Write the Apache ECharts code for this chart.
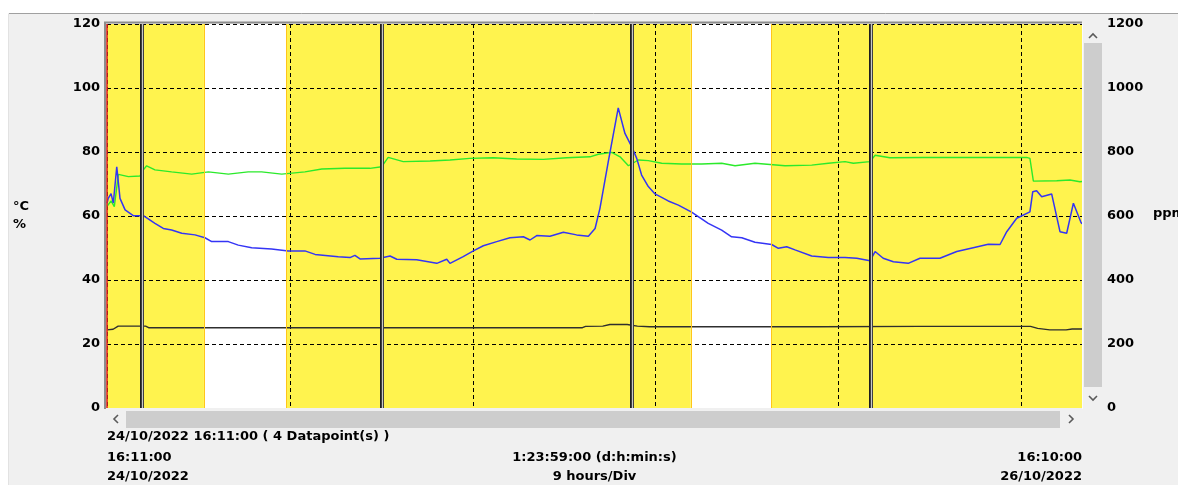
<!DOCTYPE html>
<html>
<head>
<meta charset="utf-8">
<script src="https://cdn.jsdelivr.net/npm/echarts@6/dist/echarts.min.js"></script>
<style>
  html, body { margin: 0; padding: 0; background: #ffffff; }
  #chart { width: 1178px; height: 485px; }
</style>
</head>
<body>
<div id="chart"></div>
<script>
// Logger record 24/10/2022 16:11 -> 26/10/2022 16:10; x values are elapsed hours.
const spanHours = 47 + 59 / 60;
const divHours = 9;

// CO2 concentration, ppm (right axis)
const co2Ppm = [
  [0, 640], [0.06, 655], [0.2, 670], [0.31, 640], [0.48, 754], [0.64, 655], [0.89, 619],
  [1.29, 601], [1.79, 601], [2.36, 577], [2.77, 561], [3.18, 556], [3.68, 546], [4.33, 541],
  [4.82, 532], [5.15, 520], [5.97, 520], [6.46, 509], [7.12, 501], [8.1, 497], [8.92, 491],
  [9.74, 491], [10.24, 480], [11.38, 473], [11.96, 470], [12.2, 477], [12.45, 466], [13.43, 468],
  [13.93, 475], [14.26, 465], [15.24, 463], [16.23, 452], [16.72, 465], [16.88, 452], [17.53, 473],
  [18.03, 491], [18.52, 507], [19.18, 520], [19.83, 532], [20.49, 535], [20.82, 525], [21.15, 539],
  [21.8, 537], [22.46, 549], [23.11, 541], [23.69, 537], [24.02, 561], [24.26, 624], [24.67, 770],
  [25.16, 938], [25.49, 858], [25.82, 817], [26.07, 780], [26.31, 728], [26.64, 692], [26.97, 669],
  [27.62, 647], [28.12, 634], [28.77, 612], [29.59, 577], [30.25, 556], [30.74, 535], [31.24, 532],
  [31.89, 518], [32.71, 511], [33.04, 499], [33.45, 504], [33.86, 494], [34.68, 475], [35.5, 470],
  [36.32, 470], [36.9, 468], [37.55, 460], [37.8, 489], [38.2, 468], [38.7, 457], [39.43, 452],
  [40.01, 468], [40.99, 468], [41.82, 489], [42.63, 501], [43.37, 512], [43.95, 511], [44.28, 551],
  [44.77, 593], [45.42, 613], [45.56, 676], [45.75, 679], [46.0, 660], [46.49, 669], [46.9, 551],
  [47.23, 546], [47.56, 640], [47.92, 582], [47.983, 575]
];

// Relative humidity, % (left axis)
const humidityPct = [
  [0, 63], [0.06, 62.9], [0.2, 64.7], [0.36, 62.9], [0.56, 73], [1.05, 72.3], [1.62, 72.5],
  [1.79, 74.4], [1.95, 75.7], [2.36, 74.4], [3.18, 73.8], [4.17, 73.1], [4.99, 73.8], [5.97, 73.1],
  [6.95, 73.8], [7.61, 73.8], [8.6, 73.1], [9.74, 73.8], [10.57, 74.7], [11.71, 74.9], [12.94, 74.9],
  [13.52, 75.4], [13.84, 78.3], [14.58, 77], [15.9, 77.2], [16.88, 77.5], [17.86, 78], [19.01, 78.2],
  [20.16, 77.8], [21.47, 77.7], [22.62, 78.2], [23.77, 78.5], [24.18, 79.3], [24.84, 79.9],
  [25.25, 78.5], [25.66, 75.7], [26.15, 77.5], [26.64, 77.3], [27.3, 76.5], [28.28, 76.25],
  [29.27, 76.25], [30.25, 76.5], [30.91, 75.7], [31.89, 76.5], [33.37, 75.7], [34.68, 75.9],
  [35.5, 76.5], [36.32, 77], [36.73, 76.5], [37.55, 77], [37.8, 79], [38.53, 78.2], [40.17, 78.3],
  [41.82, 78.3], [43.46, 78.3], [45.26, 78.3], [45.42, 78], [45.59, 70.9], [46.74, 71],
  [47.39, 71.25], [47.88, 70.7], [47.983, 70.8]
];

// Temperature, °C (left axis)
const tempC = [
  [0, 24.4], [0.3, 24.6], [0.55, 25.6], [1.9, 25.6], [2.05, 25.1], [10, 25.1], [20, 25.1],
  [23.4, 25.1], [23.55, 25.5], [24.4, 25.6], [24.75, 26.1], [25.6, 26.1], [26.1, 25.6],
  [26.7, 25.4], [35, 25.4], [40, 25.5], [45.45, 25.5], [45.8, 24.9], [46.4, 24.4], [47.2, 24.4],
  [47.5, 24.7], [47.983, 24.7]
];

// Cursor lines, night periods (hours elapsed)
const cursorHours = [1.73, 13.53, 25.84, 37.6];
const nightBands = [[4.77, 8.84], [28.73, 32.71]];

// Axis ticks
const leftTicks = { min: 0, max: 120, step: 20 };
const rightTicks = { min: 0, max: 1200, step: 200 };

// Footer texts
const cursorReadout = '24/10/2022 16:11:00 ( 4 Datapoint(s) )';
const startLabel = ['16:11:00', '24/10/2022'];
const spanLabel = ['1:23:59:00 (d:h:min:s)', '9 hours/Div'];
const endLabel = ['16:10:00', '26/10/2022'];
const leftUnits = ['°C', '%'];
const rightUnit = 'ppm';

const FONT = 'bold 13px "DejaVu Sans"';
const G = { left: 107, right: 1082, top: 24, bottom: 408 };

function txt(text, x, y, align) {
  return {
    type: 'text', x: x, y: y, silent: true, z: 20,
    style: {
      text: text, font: FONT, fill: '#000000',
      align: align, verticalAlign: 'middle',
      textAlign: align, textVerticalAlign: 'middle'
    }
  };
}
function chevron(points) {
  return {
    type: 'polyline', silent: true, z: 20,
    shape: { points: points },
    style: { stroke: '#5A5A5A', lineWidth: 1.6, fill: null }
  };
}
const plainNumber = function (v) { return String(v); };

const markLineData = [];
markLineData.push({ xAxis: 0, lineStyle: { color: '#E0281E', width: 1.6, type: 'solid' } });
nightBands.forEach(function (b) {
  markLineData.push({ xAxis: b[0], lineStyle: { color: '#FFC61A', width: 1, type: 'solid' } });
  markLineData.push({ xAxis: b[1], lineStyle: { color: '#FFC61A', width: 1, type: 'solid' } });
});
cursorHours.forEach(function (h) {
  markLineData.push({ xAxis: h, lineStyle: { color: '#1E1E1E', width: 4, type: 'solid' } });
});
cursorHours.forEach(function (h) {
  markLineData.push({ xAxis: h, lineStyle: { color: '#C8C8C8', width: 1.4, type: 'solid' } });
});

const chart = echarts.init(document.getElementById('chart'), null, { renderer: 'canvas' });

chart.setOption({
  animation: false,
  backgroundColor: '#F0F0F0',
  grid: {
    left: G.left, right: 1178 - G.right, top: G.top, bottom: 485 - G.bottom,
    show: true, backgroundColor: '#FFF34E', borderWidth: 0
  },
  xAxis: {
    type: 'value', min: 0, max: spanHours, interval: divHours, z: 1.5,
    axisLine: { show: false }, axisTick: { show: false }, axisLabel: { show: false },
    splitLine: { show: true, showMaxLine: false, lineStyle: { color: '#000000', width: 1, type: [4, 3] } }
  },
  yAxis: [
    {
      type: 'value', min: leftTicks.min, max: leftTicks.max, interval: leftTicks.step, z: 1.5,
      axisLine: { show: false }, axisTick: { show: false },
      axisLabel: { margin: 7, color: '#000000', fontFamily: 'DejaVu Sans', fontWeight: 'bold', fontSize: 13, formatter: plainNumber },
      splitLine: { show: true, showMinLine: false, lineStyle: { color: '#000000', width: 1, type: [4, 3] } }
    },
    {
      type: 'value', min: rightTicks.min, max: rightTicks.max, interval: rightTicks.step, z: 1.5,
      position: 'right',
      axisLine: { show: false }, axisTick: { show: false },
      axisLabel: { margin: 25, color: '#000000', fontFamily: 'DejaVu Sans', fontWeight: 'bold', fontSize: 13, formatter: plainNumber },
      splitLine: { show: false }
    }
  ],
  series: [
    {
      name: 'Temperature', type: 'line', yAxisIndex: 0, data: tempC, z: 2,
      showSymbol: false, symbol: 'none', smooth: false,
      lineStyle: { color: '#2E2E2E', width: 1.4 }
    },
    {
      name: 'Humidity', type: 'line', yAxisIndex: 0, data: humidityPct, z: 2,
      showSymbol: false, symbol: 'none', smooth: false,
      lineStyle: { color: '#2BEA2B', width: 1.4 },
      markArea: {
        silent: true, z: 1,
        itemStyle: { color: '#FFFFFF', borderWidth: 0 },
        data: nightBands.map(function (b) { return [{ xAxis: b[0] }, { xAxis: b[1] }]; })
      }
    },
    {
      name: 'CO2', type: 'line', yAxisIndex: 1, data: co2Ppm, z: 3,
      showSymbol: false, symbol: 'none', smooth: false,
      lineStyle: { color: '#3434F5', width: 1.5 },
      markLine: {
        silent: true, z: 5, symbol: ['none', 'none'],
        label: { show: false },
        data: markLineData
      }
    }
  ],
  graphic: [
    // window chrome
    { type: 'rect', silent: true, shape: { x: 0, y: 0, width: 1178, height: 13 }, style: { fill: '#FFFFFF' } },
    { type: 'rect', silent: true, shape: { x: 0, y: 0, width: 8, height: 485 }, style: { fill: '#FFFFFF' } },
    { type: 'line', silent: true, shape: { x1: 9, y1: 13.5, x2: 1178, y2: 13.5 }, style: { stroke: '#A0A0A0', lineWidth: 1 } },
    { type: 'line', silent: true, shape: { x1: 8.5, y1: 14, x2: 8.5, y2: 485 }, style: { stroke: '#E2E2E2', lineWidth: 1 } },
    // plot frame
    { type: 'line', silent: true, z: 10, shape: { x1: 104, y1: 22.5, x2: G.right, y2: 22.5 }, style: { stroke: '#8C8C8C', lineWidth: 2 } },
    { type: 'line', silent: true, z: 10, shape: { x1: 105, y1: 22, x2: 105, y2: 409 }, style: { stroke: '#8C8C8C', lineWidth: 2 } },
    { type: 'line', silent: true, z: 10, shape: { x1: G.right + 0.5, y1: 23, x2: G.right + 0.5, y2: 409 }, style: { stroke: '#FAFAFA', lineWidth: 1 } },
    // vertical scrollbar
    { type: 'rect', silent: true, shape: { x: 1084, y: 43, width: 18, height: 344 }, style: { fill: '#CDCDCD' } },
    chevron([[1089, 38], [1093, 34], [1097, 38]]),
    chevron([[1089, 396], [1093, 400], [1097, 396]]),
    // horizontal scrollbar
    { type: 'rect', silent: true, shape: { x: 126, y: 411, width: 934, height: 17 }, style: { fill: '#CDCDCD' } },
    chevron([[118, 415], [114, 419], [118, 423]]),
    chevron([[1069, 415], [1073, 419], [1069, 423]]),
    // unit labels
    txt(leftUnits[0], 13, 207, 'left'),
    txt(leftUnits[1], 13, 225, 'left'),
    txt(rightUnit, 1153, 214, 'left'),
    // footer
    txt(cursorReadout, G.left, 437, 'left'),
    txt(startLabel[0], G.left, 458, 'left'),
    txt(startLabel[1], G.left, 477, 'left'),
    txt(spanLabel[0], (G.left + G.right) / 2, 458, 'center'),
    txt(spanLabel[1], (G.left + G.right) / 2, 477, 'center'),
    txt(endLabel[0], G.right, 458, 'right'),
    txt(endLabel[1], G.right, 477, 'right')
  ]
});
</script>
</body>
</html>
